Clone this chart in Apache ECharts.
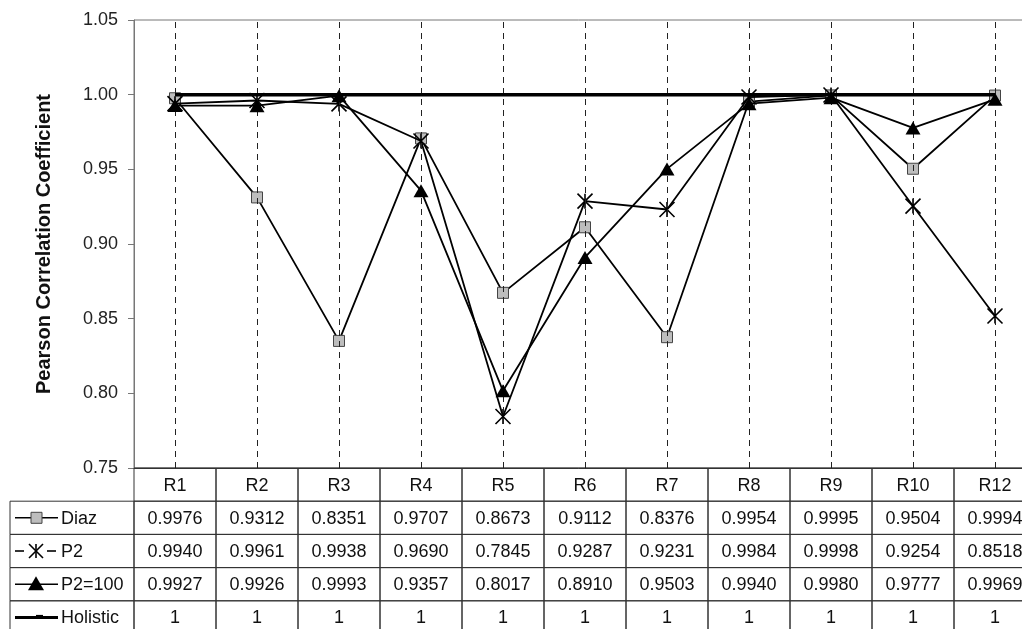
<!DOCTYPE html>
<html>
<head>
<meta charset="utf-8">
<script src="https://cdn.jsdelivr.net/npm/echarts@6/dist/echarts.min.js"></script>
<style>
  html, body { margin: 0; padding: 0; background: #fff; }
  #chart { width: 1022px; height: 629px; }
</style>
</head>
<body>
<div id="chart"></div>
<script>
// Runs (columns of the data table / x categories)
const categories = ['R1', 'R2', 'R3', 'R4', 'R5', 'R6', 'R7', 'R8', 'R9', 'R10', 'R12'];

// Pearson correlation per run for each method
const diaz     = [0.9976, 0.9312, 0.8351, 0.9707, 0.8673, 0.9112, 0.8376, 0.9954, 0.9995, 0.9504, 0.9994];
const p2       = [0.9940, 0.9961, 0.9938, 0.9690, 0.7845, 0.9287, 0.9231, 0.9984, 0.9998, 0.9254, 0.8518];
const p2Fixed  = [0.9927, 0.9926, 0.9993, 0.9357, 0.8017, 0.8910, 0.9503, 0.9940, 0.9980, 0.9777, 0.9969];
const holistic = [1, 1, 1, 1, 1, 1, 1, 1, 1, 1, 1];

const seriesNames = ['Diaz', 'P2', 'P2=100', 'Holistic'];
const seriesValues = [diaz, p2, p2Fixed, holistic];

// Y axis range and step
const yMin = 0.75, yMax = 1.05, yStep = 0.05;

const FONT = '"Liberation Sans", Arial, Helvetica, sans-serif';
const INK = '#111';
const RULE = '#333';

function fmt(v) {
  return Number.isInteger(v) ? String(v) : v.toFixed(4);
}

// Table rows: header row of run names, then one row per method
const tableRows = ['', ...seriesNames];
const tableData = [];
for (let r = 0; r < tableRows.length; r++) {
  for (let c = 0; c < categories.length; c++) tableData.push([c, r]);
}

function cellText(row, col) {
  if (row === 0) return categories[col];
  return fmt(seriesValues[row - 1][col]);
}

const asterisk = 'path://M0,0L10,10M10,0L0,10M5,0L5,10';

// Little key drawn in front of each method name in the table
function legendKey(row, cy) {
  const k = [];
  const seg = (x1, y1, x2, y2, w) => ({ type: 'line', shape: { x1, y1, x2, y2 }, style: { stroke: '#000', lineWidth: w } });
  if (row === 1) {
    k.push(seg(15, cy, 58, cy, 1.6));
    k.push({ type: 'rect', shape: { x: 31, y: cy - 5.5, width: 11, height: 11 }, style: { fill: '#bdbdbd', stroke: '#444', lineWidth: 1 } });
  } else if (row === 2) {
    k.push(seg(15, cy, 24, cy, 1.6));
    k.push(seg(47, cy, 56, cy, 1.6));
    k.push(seg(29, cy - 7, 43, cy + 7, 1.6));
    k.push(seg(43, cy - 7, 29, cy + 7, 1.6));
    k.push(seg(36, cy - 7, 36, cy + 7, 1.6));
  } else if (row === 3) {
    k.push(seg(15, cy, 58, cy, 1.6));
    k.push({ type: 'polygon', shape: { points: [[36, cy - 8], [28, cy + 6], [44, cy + 6]] }, style: { fill: '#000' } });
  } else if (row === 4) {
    k.push(seg(15, cy, 58, cy, 3));
    k.push(seg(36, cy - 1, 43, cy - 1, 3));
  }
  return k;
}

function renderCell(params, api) {
  const col = api.value(0), row = api.value(1);
  const p = api.coord([col, row]);
  const sz = api.size([1, 1]);
  const w = sz[0], h = sz[1];
  const children = [
    { type: 'rect', shape: { x: p[0] - w / 2, y: p[1] - h / 2, width: w, height: h },
      style: { fill: 'none', stroke: RULE, lineWidth: 1 } },
    { type: 'text', style: { x: p[0], y: p[1] + 1, text: cellText(row, col), fill: INK,
      fontSize: 18, fontFamily: FONT, align: 'center', verticalAlign: 'middle' } }
  ];
  if (col === 0 && row > 0) {
    const left = 10, gx = params.coordSys.x;
    children.push({ type: 'rect', shape: { x: left, y: p[1] - h / 2, width: gx - left, height: h },
      style: { fill: 'none', stroke: RULE, lineWidth: 1 } });
    children.push(...legendKey(row, p[1]));
    children.push({ type: 'text', style: { x: 61, y: p[1] + 1, text: tableRows[row], fill: INK,
      fontSize: 18, fontFamily: FONT, align: 'left', verticalAlign: 'middle' } });
  }
  return { type: 'group', children };
}

const chart = echarts.init(document.getElementById('chart'), null, { renderer: 'canvas' });

const lineBase = {
  type: 'line',
  xAxisIndex: 0,
  yAxisIndex: 0,
  animation: false,
  silent: true,
  lineStyle: { color: '#000', width: 1.8 }
};

chart.setOption({
  backgroundColor: '#fff',
  animation: false,
  grid: [
    { left: 134, right: -14, top: 20, height: 448, show: true, borderColor: '#777', borderWidth: 1,
      outerBoundsMode: 'none', containLabel: false },
    { left: 134, right: -14, top: 468, height: 166, outerBoundsMode: 'none', containLabel: false }
  ],
  xAxis: [
    { type: 'category', gridIndex: 0, data: categories, boundaryGap: true,
      axisLine: { show: true, lineStyle: { color: '#333', width: 1 } },
      axisTick: { show: false }, axisLabel: { show: false }, splitLine: { show: false } },
    { type: 'category', gridIndex: 1, data: categories, boundaryGap: true, show: false }
  ],
  yAxis: [
    { type: 'value', gridIndex: 0, min: yMin, max: yMax, interval: yStep,
      name: 'Pearson Correlation Coefficient', nameLocation: 'middle', nameGap: 80,
      nameTextStyle: { fontFamily: FONT, fontSize: 20, fontWeight: 'bold', color: INK },
      axisLine: { show: true, lineStyle: { color: '#777', width: 1 } },
      axisTick: { show: true, length: 6, lineStyle: { color: '#777' } },
      axisLabel: { fontFamily: FONT, fontSize: 18, color: '#222', margin: 16,
        formatter: v => v.toFixed(2) },
      splitLine: { show: false } },
    { type: 'category', gridIndex: 1, data: tableRows, inverse: true, show: false }
  ],
  series: [
    Object.assign({}, lineBase, {
      name: seriesNames[0], data: diaz, z: 3,
      symbol: 'rect', symbolSize: 11,
      itemStyle: { color: '#bdbdbd', borderColor: '#444', borderWidth: 1 }
    }),
    Object.assign({}, lineBase, {
      name: seriesNames[1], data: p2, z: 4,
      symbol: asterisk, symbolSize: 15,
      itemStyle: { color: '#000', borderColor: '#000', borderWidth: 1.6 }
    }),
    Object.assign({}, lineBase, {
      name: seriesNames[2], data: p2Fixed, z: 5,
      symbol: 'triangle', symbolSize: [15, 13],
      itemStyle: { color: '#000', borderColor: '#000', borderWidth: 0 }
    }),
    Object.assign({}, lineBase, {
      name: seriesNames[3], data: holistic, z: 6,
      symbol: 'none',
      lineStyle: { color: '#000', width: 3.5 },
      markLine: {
        silent: true, symbol: ['none', 'none'], label: { show: false }, animation: false,
        lineStyle: { type: [6, 5], color: '#222', width: 1 },
        data: categories.map(c => ({ xAxis: c }))
      }
    }),
    {
      type: 'custom', name: 'table', coordinateSystem: 'cartesian2d',
      xAxisIndex: 1, yAxisIndex: 1, silent: true, animation: false,
      renderItem: renderCell, data: tableData
    }
  ]
});
</script>
</body>
</html>
